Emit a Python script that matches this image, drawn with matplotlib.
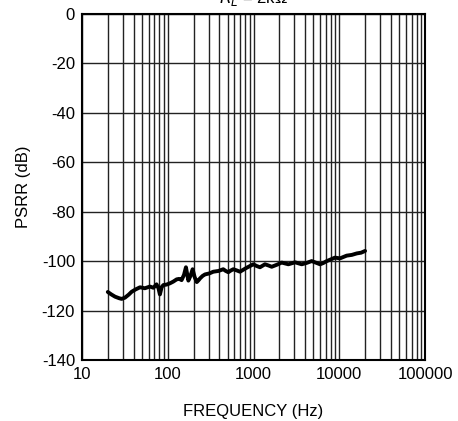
import matplotlib
matplotlib.use('Agg')
import matplotlib.pyplot as plt
from matplotlib.ticker import LogLocator, NullFormatter

plt.rcParams['font.family'] = ['Liberation Sans', 'DejaVu Sans']
plt.rcParams['axes.unicode_minus'] = False

# PSRR curve
freq = [20, 22, 24.3, 27, 29, 31.7, 35, 38, 42, 47.5, 54, 62, 68, 74, 78, 81, 85, 89,
        97, 106, 116, 127, 136, 145, 155, 163, 168, 174, 184, 195, 206, 218, 228, 238,
        255, 272, 305, 340, 390, 444, 475, 508, 545, 581, 640, 696, 760, 833, 910, 995,
        1090, 1190, 1360, 1500, 1630, 1900, 2130, 2550, 3050, 3650, 4200, 4770, 5300,
        5970, 6500, 7150, 8000, 8900, 10200, 12200, 14000, 16000, 18000, 20000]
psrr = [-112.5, -113.5, -114.4, -115.0, -115.3, -114.8, -113.6, -112.4, -111.5, -110.6,
        -111.0, -110.3, -110.8, -109.4, -111.0, -113.5, -110.5, -109.7,
        -109.5, -109.0, -108.3, -107.4, -107.2, -107.7, -105.5, -102.5, -105.0, -107.9,
        -106.0, -103.3, -106.5, -108.5, -107.8, -107.0,
        -106.0, -105.4, -105.0, -104.3, -104.0, -103.3, -104.0, -104.5, -103.8, -103.3,
        -103.8, -104.3, -103.5, -102.7, -102.0, -101.3,
        -102.0, -102.5, -101.3, -101.8, -102.3, -101.4, -100.6, -101.3, -100.5, -101.3,
        -100.7, -100.0, -100.6, -101.3, -100.8, -100.0, -99.3, -98.6, -98.9, -97.8,
        -97.5, -96.9, -96.6, -95.9]

y_ticks = [0, -20, -40, -60, -80, -100, -120, -140]
x_ticks = [10, 100, 1000, 10000, 100000]
x_labels = ['10', '100', '1000', '10000', '100000']

fig = plt.figure(figsize=(4.58, 4.21), dpi=100)
ax = fig.add_axes([0.179, 0.145, 0.749, 0.822])

ax.semilogx(freq, psrr, color='black', linewidth=2.8, solid_capstyle='round',
            solid_joinstyle='round', zorder=3)

ax.set_xlim(10, 100000)
ax.set_ylim(-140, 0)
ax.set_xticks(x_ticks)
ax.set_xticklabels(x_labels)
ax.xaxis.set_minor_locator(LogLocator(base=10, subs=range(2, 10), numticks=20))
ax.xaxis.set_minor_formatter(NullFormatter())
ax.set_yticks(y_ticks)

ax.grid(True, which='major', color='#222222', linewidth=1.0)
ax.grid(True, which='minor', axis='x', color='#222222', linewidth=1.0)
ax.tick_params(which='both', length=0, labelsize=12, pad=5)
for s in ax.spines.values():
    s.set_linewidth(1.5)
    s.set_color('black')

ax.set_xlabel('FREQUENCY (Hz)', fontsize=12, labelpad=16)
ax.set_ylabel('PSRR (dB)', fontsize=12, labelpad=8)

fig.text(0.553, 0.993, r'$R_L$ = 2kΩ', ha='center', va='baseline', fontsize=12)

fig.savefig('out.png', dpi=100)
